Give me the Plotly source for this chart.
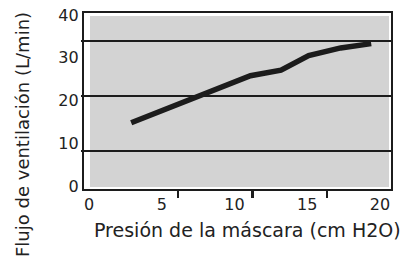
import plotly.graph_objects as go

# Data
pressure = [2.9, 4.8, 7.0, 9.0, 11.1, 13.2, 15.1, 17.3, 19.4]
flow = [14.8, 17.4, 20.4, 23.1, 25.8, 27.1, 30.5, 32.3, 33.3]

x_ticks = [0, 5, 10, 15, 20]
y_ticks = [0, 10, 20, 30, 40]
grid_vals = [10, 20, 30]
mark_vals = [5, 10, 15]

x_title = "Presión de la máscara (cm H2O)"
y_title = "Flujo de ventilación (L/min)"

FONT = "DejaVu Sans, Verdana, sans-serif"
INK = "#1c1c1c"
TXT = "#222222"

fig = go.Figure()
fig.add_trace(go.Scatter(
    x=pressure, y=flow, mode="lines",
    line=dict(color=INK, width=5.5),
    hoverinfo="skip", showlegend=False,
))
# invisible trace to activate secondary axes (grid lines / offset tick marks)
fig.add_trace(go.Scatter(x=[None], y=[None], xaxis="x2", yaxis="y2",
                         showlegend=False, hoverinfo="skip"))

fig.update_layout(
    template="none",
    width=403, height=269,
    margin=dict(l=84, r=12, t=13, b=80, pad=0, autoexpand=False),
    showlegend=False,
    paper_bgcolor="white", plot_bgcolor="white",
    font=dict(family=FONT, color=INK, size=16),
    xaxis=dict(
        range=[-0.344, 20.76], tickvals=x_ticks, ticktext=[str(v) for v in x_ticks],
        showgrid=False, zeroline=False, ticks="", automargin=False,
        ticklabeloverflow="allow",
        showline=True, linecolor=INK, linewidth=2.2, mirror=True,
        tickfont=dict(size=16, color=TXT),
    ),
    yaxis=dict(
        range=[-0.70, 40.47], tickvals=y_ticks, ticktext=[str(v) for v in y_ticks],
        showgrid=False, zeroline=False, ticks="", automargin=False,
        ticklabeloverflow="allow",
        showline=True, linecolor=INK, linewidth=2.2, mirror=True,
        tickfont=dict(size=16, color=TXT),
    ),
    xaxis2=dict(
        overlaying="x", side="bottom", range=[-1.35, 19.34], automargin=False,
        tickvals=mark_vals, showticklabels=False, showgrid=False, zeroline=False,
        ticks="outside", ticklen=8, tickwidth=2.2, tickcolor=INK, showline=False,
    ),
    yaxis2=dict(
        overlaying="y", side="left", range=[3.05, 35.16], automargin=False,
        tickvals=grid_vals, showticklabels=False, showgrid=True,
        gridcolor=INK, gridwidth=2, zeroline=False,
        ticks="outside", ticklen=2, tickwidth=2, tickcolor=INK, showline=False,
    ),
    shapes=[dict(
        type="rect", xref="paper", yref="paper",
        x0=0.0195, x1=0.9935, y0=0.011, y1=0.983,
        fillcolor="#d3d3d3", line=dict(width=0), layer="below",
    )],
    annotations=[
        dict(text=x_title, xref="paper", yref="paper", x=0.531, y=-0.233,
             xanchor="center", yanchor="middle", showarrow=False,
             font=dict(size=19, family=FONT, color=TXT)),
        dict(text=y_title, xref="paper", yref="paper", x=-0.202, y=0.3125,
             xanchor="center", yanchor="middle", showarrow=False, textangle=-90,
             font=dict(size=18, family=FONT, color=TXT)),
    ],
)

fig.write_html("out.html",
               config={"displayModeBar": False, "staticPlot": True},
               post_script="document.body.style.margin='0';document.body.style.overflow='hidden';")
